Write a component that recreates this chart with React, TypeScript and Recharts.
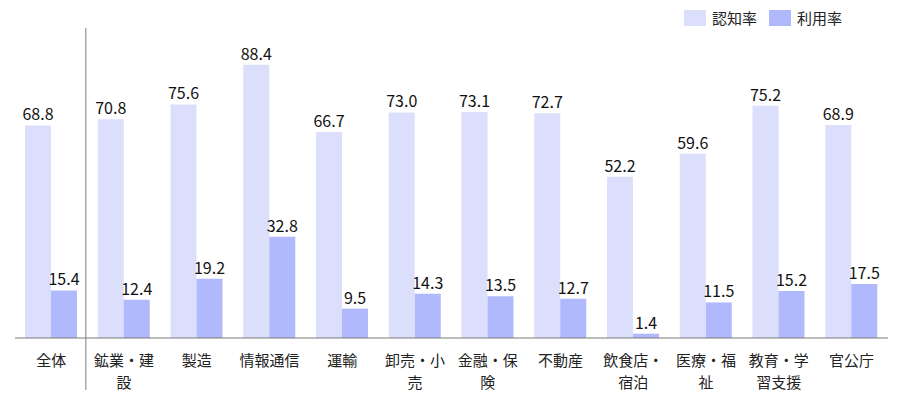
import React from 'react';
import { BarChart, Bar, XAxis, YAxis, LabelList, ReferenceLine } from 'recharts';

const categories = ['全体', '鉱業・建設', '製造', '情報通信', '運輸', '卸売・小売', '金融・保険', '不動産', '飲食店・宿泊', '医療・福祉', '教育・学習支援', '官公庁'];
const awareness = [68.8, 70.8, 75.6, 88.4, 66.7, 73.0, 73.1, 72.7, 52.2, 59.6, 75.2, 68.9];
const usage = [15.4, 12.4, 19.2, 32.8, 9.5, 14.3, 13.5, 12.7, 1.4, 11.5, 15.2, 17.5];
const seriesNames = ['認知率', '利用率'];

const LIGHT = '#dcdffc';
const DARK = '#afb9fb';
const FONT = '"Noto Sans CJK JP", "Noto Sans", sans-serif';

const data = categories.map((name, i) => ({ name, awareness: awareness[i], usage: usage[i] }));

const CategoryTick = (props: any) => {
  const { x, y, payload } = props;
  const text: string = payload.value;
  const lines: string[] = [];
  for (let i = 0; i < text.length; i += 4) lines.push(text.slice(i, i + 4));
  return (
    <text x={x} y={y} textAnchor="middle" fontSize={15} fill="#222" fontFamily={FONT}>
      {lines.map((l, i) => (
        <tspan key={i} x={x} dy={i === 0 ? 20 : 22}>{l}</tspan>
      ))}
    </text>
  );
};

// vertical divider after 全体, reaching above the plot and down through the labels
const Divider = (p: any) => {
  const top = Math.min(p.y1, p.y2);
  const bottom = Math.max(p.y1, p.y2);
  return <line x1={p.x1 - 2} x2={p.x2 - 2} y1={top - 1} y2={bottom + 52} stroke="#aaa" strokeWidth={1.5} />;
};

const fmt = (v: any) => Number(v).toFixed(1);

export default function App() {
  return (
    <div style={{ position: 'absolute', left: 0, top: 0, width: 900, height: 393, background: '#fff' }}>
      <div style={{ position: 'absolute', left: 684, top: 7, display: 'flex', alignItems: 'center', fontFamily: FONT, fontSize: 15, color: '#222', zIndex: 2 }}>
        <span style={{ width: 22, height: 16, background: LIGHT, display: 'inline-block', marginRight: 6 }} />
        <span style={{ marginRight: 12 }}>{seriesNames[0]}</span>
        <span style={{ width: 22, height: 16, background: DARK, display: 'inline-block', marginRight: 6 }} />
        <span>{seriesNames[1]}</span>
      </div>
      <BarChart width={900} height={393} data={data} margin={{ top: 29, right: 12, left: 15, bottom: 0 }} barGap={0}>
        <XAxis
          dataKey="name"
          height={55}
          interval={0}
          tickLine={false}
          axisLine={{ stroke: '#7a7a7a', strokeWidth: 1 }}
          tick={<CategoryTick />}
        />
        <YAxis hide domain={[0, 100]} />
        <ReferenceLine x="全体" position="end" stroke="#aaa" ifOverflow="visible" shape={Divider} />
        <Bar dataKey="awareness" name={seriesNames[0]} fill={LIGHT} barSize={26} isAnimationActive={false}>
          <LabelList dataKey="awareness" position="top" offset={5} formatter={fmt} fill="#111" fontSize={16} fontFamily={FONT} />
        </Bar>
        <Bar dataKey="usage" name={seriesNames[1]} fill={DARK} barSize={26} isAnimationActive={false}>
          <LabelList dataKey="usage" position="top" offset={5} formatter={fmt} fill="#111" fontSize={16} fontFamily={FONT} />
        </Bar>
      </BarChart>
    </div>
  );
}
